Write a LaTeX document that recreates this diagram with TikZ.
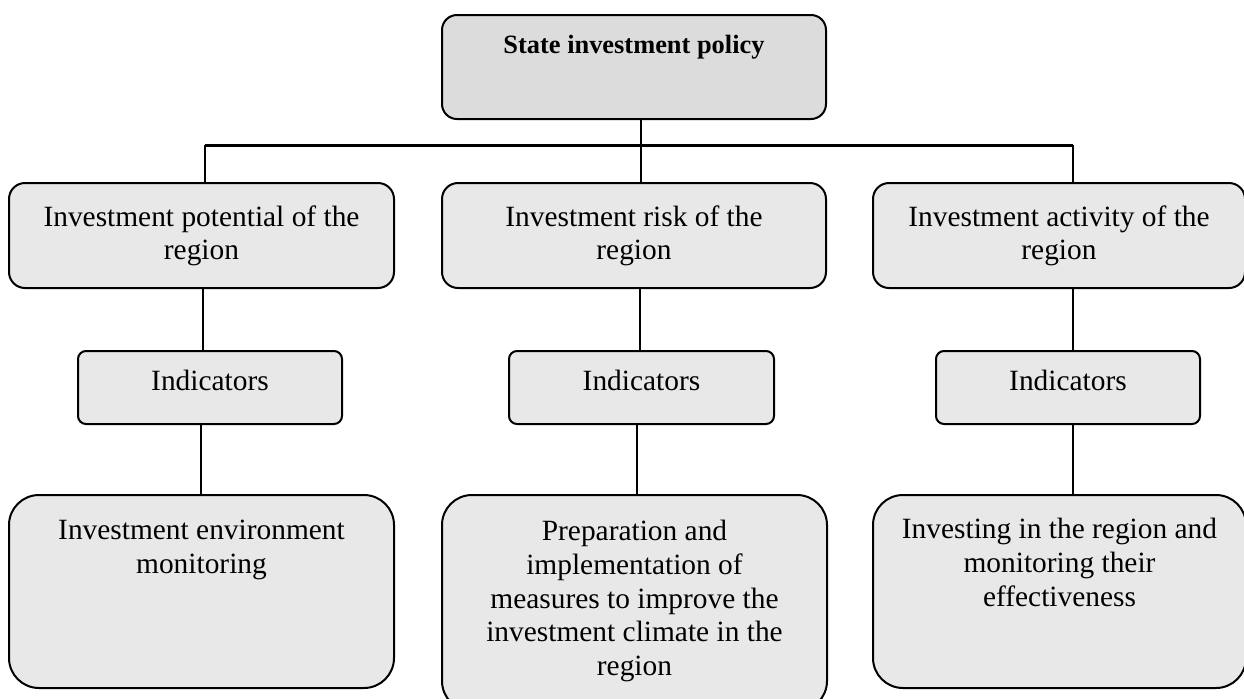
\documentclass[tikz,border=0pt]{standalone}
\usepackage{fontspec}
\setmainfont{Liberation Serif}
\usetikzlibrary{calc}

\definecolor{topfill}{HTML}{DCDCDC}
\definecolor{boxfill}{HTML}{E8E8E8}

\tikzset{
  box/.style={draw=black, line width=1pt, fill=boxfill, inner sep=0pt,
              anchor=north west},
  headbox/.style={box, fill=topfill, rounded corners=7.5pt},
  midbox/.style={box, rounded corners=8pt},
  indbox/.style={box, rounded corners=4pt},
  lowbox/.style={box, rounded corners=15pt},
  label/.style={inner sep=0pt, anchor=north, align=center,
                font=\fontsize{14.7}{16.8}\selectfont},
  headlabel/.style={label, font=\fontsize{13.2}{15}\selectfont\bfseries},
  link/.style={line width=1pt},
  bus/.style={line width=1.5pt}
}

\begin{document}
\begin{tikzpicture}[x=0.5pt, y=-0.5pt]
  \useasboundingbox (0,0) rectangle (1244,698);
  \clip (0,0) rectangle (1244,698);

  % head of the tree
  \node[headbox, minimum width=192pt, minimum height=52pt] (top) at (441,14) {};
  \node[headlabel] (toptxt) at ($(top.north)+(0,21)$) {State investment policy};

  % second level
  \node[midbox, minimum width=192.5pt, minimum height=52.5pt] (potential) at (8,182) {};
  \node[midbox, minimum width=192pt, minimum height=52.5pt] (risk) at (441,182) {};
  \node[midbox, minimum width=186pt, minimum height=52.5pt] (activity) at (872,182) {};
  \node[label] at ($(potential.north)+(0,23)$) {Investment potential of the\\region};
  \node[label] at ($(risk.north)+(0,23)$) {Investment risk of the\\region};
  \node[label] at ($(activity.north)+(0,23)$) {Investment activity of the\\region};

  % indicators
  \node[indbox, minimum width=132pt, minimum height=36.5pt] (indA) at (77,350) {};
  \node[indbox, minimum width=132.5pt, minimum height=36.5pt] (indB) at (508,350) {};
  \node[indbox, minimum width=132pt, minimum height=36.5pt] (indC) at (935,350) {};
  \node[label] at ($(indA.north)+(0,20)$) {Indicators};
  \node[label] at ($(indB.north)+(0,20)$) {Indicators};
  \node[label] at ($(indC.north)+(0,20)$) {Indicators};

  % outcomes
  \node[lowbox, minimum width=192.5pt, minimum height=96.5pt] (envmon) at (8,494) {};
  \node[lowbox, minimum width=192.5pt, minimum height=108pt] (measures) at (441,494) {};
  \node[lowbox, minimum width=186.5pt, minimum height=96.5pt] (investing) at (872,494) {};
  \node[label] at ($(envmon.north)+(0,26)$) {Investment environment\\monitoring};
  \node[label] at ($(measures.north)+(0,26)$) {Preparation and\\implementation of\\measures to improve the\\investment climate in the\\region};
  \node[label] at ($(investing.north)+(0,24)$) {Investing in the region and\\monitoring their\\effectiveness};

  % connectors
  \coordinate (hub) at (641,145);
  \coordinate (busL) at (205,145);
  \coordinate (busR) at (1073,145);
  \coordinate (colA) at (203,0);
  \coordinate (colA2) at (201,0);
  \coordinate (colB) at (640,0);
  \coordinate (colB2) at (637,0);
  \coordinate (colC) at (1073,0);

  \draw[bus] (busL) -- (busR);
  \draw[link] (hub |- top.south) -- (hub |- risk.north);
  \draw[link] (busL) -- (busL |- potential.north);
  \draw[link] (busR) -- (busR |- activity.north);

  \draw[link] (colA |- potential.south) -- (colA |- indA.north);
  \draw[link] (colB |- risk.south) -- (colB |- indB.north);
  \draw[link] (colC |- activity.south) -- (colC |- indC.north);

  \draw[link] (colA2 |- indA.south) -- (colA2 |- envmon.north);
  \draw[link] (colB2 |- indB.south) -- (colB2 |- measures.north);
  \draw[link] (colC |- indC.south) -- (colC |- investing.north);
\end{tikzpicture}
\end{document}
